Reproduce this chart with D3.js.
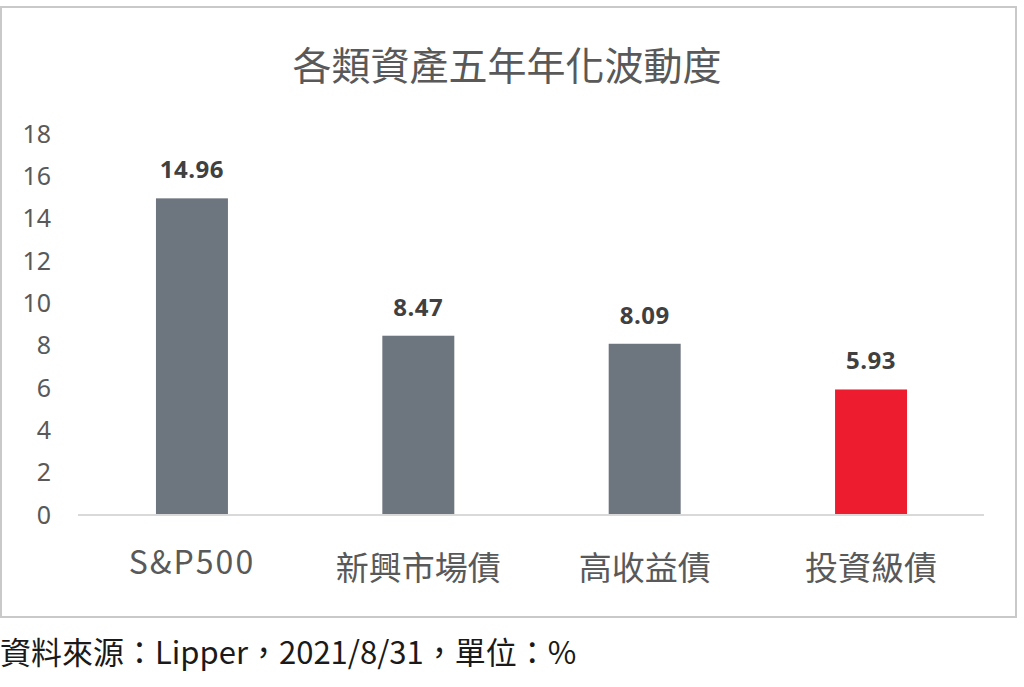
<!DOCTYPE html>
<html lang="zh-Hant">
<head>
    <meta charset="UTF-8">
    <title>各類資產五年年化波動度</title>
    <script src="https://d3js.org/d3.v7.min.js"></script>
    <style>
        body { margin: 0; background: #fff; }
        svg { display: block; }
    </style>
</head>
<body>
    <svg id="chart" width="1024" height="687"></svg>

    <script>
        // data
        var categories = ["S&P500", "新興市場債", "高收益債", "投資級債"];
        var values = [14.96, 8.47, 8.09, 5.93];
        var yTicks = [0, 2, 4, 6, 8, 10, 12, 14, 16, 18];
        var barColors = ["#6d767e", "#6d767e", "#6d767e", "#ed1c2e"];

        var svg = d3.select("#chart");
        var cjk = "'Noto Sans CJK TC', 'Noto Sans', sans-serif";

        // frame around the chart
        svg.append("rect")
            .attr("x", 1).attr("y", 7)
            .attr("width", 1015).attr("height", 610)
            .attr("fill", "none")
            .attr("stroke", "#c9c9c9")
            .attr("stroke-width", 2);

        // title
        svg.append("text")
            .attr("x", 507).attr("y", 80)
            .attr("text-anchor", "middle")
            .attr("font-family", cjk)
            .attr("font-size", "39px")
            .attr("fill", "#595959")
            .text("各類資產五年年化波動度");

        var xScale = d3.scaleBand()
            .domain(categories)
            .range([79, 984])
            .paddingInner(0.682)
            .paddingOuter(0.34);

        var yScale = d3.scaleLinear().domain([0, 18]).range([515, 134]);

        // y axis labels
        var yAxis = svg.append("g")
            .attr("transform", "translate(51,0)")
            .call(d3.axisLeft(yScale).tickValues(yTicks).tickSize(0).tickPadding(0));
        yAxis.select(".domain").remove();
        yAxis.selectAll("text")
            .attr("font-family", "'Noto Sans', sans-serif")
            .attr("font-size", "25px")
            .attr("fill", "#595959");

        // bars
        svg.selectAll(".bar")
            .data(values)
            .join("rect")
            .classed("bar", true)
            .attr("x", (d, i) => xScale(categories[i]))
            .attr("y", d => yScale(d))
            .attr("width", xScale.bandwidth())
            .attr("height", d => yScale(0) - yScale(d))
            .attr("fill", (d, i) => barColors[i]);

        // baseline
        svg.append("line")
            .attr("x1", 78).attr("x2", 984)
            .attr("y1", yScale(0)).attr("y2", yScale(0))
            .attr("stroke", "#d9d9d9")
            .attr("stroke-width", 2);

        // value labels
        svg.selectAll(".val")
            .data(values)
            .join("text")
            .classed("val", true)
            .attr("x", (d, i) => xScale(categories[i]) + xScale.bandwidth() / 2)
            .attr("y", d => yScale(d) - 20)
            .attr("text-anchor", "middle")
            .attr("font-family", "'Open Sans', 'Noto Sans', sans-serif")
            .attr("font-weight", "bold")
            .attr("font-size", "24px")
            .attr("letter-spacing", "0.5px")
            .attr("fill", "#404040")
            .text(d => d.toFixed(2));

        // category labels
        var xAxis = svg.append("g")
            .attr("transform", "translate(0," + yScale(0) + ")")
            .call(d3.axisBottom(xScale).tickSize(0).tickPadding(0));
        xAxis.select(".domain").remove();
        xAxis.selectAll("text")
            .attr("y", d => d == "S&P500" ? 59 : 65)
            .attr("dy", 0)
            .attr("font-family", cjk)
            .attr("font-size", d => d == "S&P500" ? "32px" : "33px")
            .attr("letter-spacing", d => d == "S&P500" ? "2px" : "0px")
            .attr("fill", "#595959");

        // source note
        svg.append("text")
            .attr("x", 0).attr("y", 664)
            .attr("font-family", cjk)
            .attr("font-size", "31px")
            .attr("fill", "#1a1a1a")
            .text("資料來源：Lipper，2021/8/31，單位：%");
    </script>
</body>
</html>
